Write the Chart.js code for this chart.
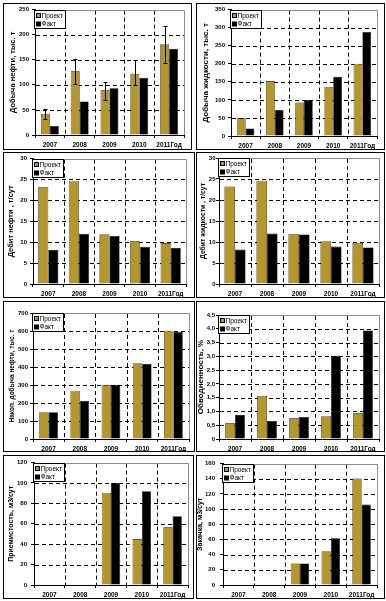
<!DOCTYPE html>
<html>
<head>
<meta charset="utf-8">
<script src="https://cdn.jsdelivr.net/npm/chart.js@4.4.1/dist/chart.umd.min.js"></script>
<style>
  html, body { margin:0; padding:0; background:#fff; }
  body { width:386px; height:601px; position:relative; overflow:hidden; }
  canvas { position:absolute; }
  .frame { position:absolute; border:1px solid #000; box-sizing:border-box; pointer-events:none; }
</style>
</head>
<body>
<script>
// ---------- DATA ----------
const categories = ['2007', '2008', '2009', '2010', '2011'];
const xAxisTitle = 'Год';
const seriesNames = ['Проект', 'Факт'];

const oilProject      = [42, 127, 89, 122, 181];
const oilFact         = [18, 67, 93, 114, 172];
const oilProjectLow   = [32, 101, 69, 99, 144];
const oilProjectHigh  = [51, 152, 105, 149, 217];

const liquidProject   = [49, 152, 93, 136, 200];
const liquidFact      = [21, 72, 100, 164, 288];

const oilRateProject  = [23.2, 24.6, 11.9, 10.2, 9.8];
const oilRateFact     = [8.2, 12.0, 11.5, 8.9, 8.6];

const liqRateProject  = [23.2, 24.6, 11.9, 10.2, 9.8];
const liqRateFact     = [8.2, 12.0, 11.8, 8.9, 8.7];

const cumOilProject   = [149, 268, 301, 421, 602];
const cumOilFact      = [149, 212, 301, 416, 595];

const waterCutProject = [0.57, 1.56, 0.75, 0.83, 0.93];
const waterCutFact    = [0.87, 0.66, 0.80, 3.02, 3.94];

const injectivityProject = [null, null, 90.5, 45, 56.5];
const injectivityFact    = [null, null, 100, 92, 67.5];

const injectionProject = [null, null, 28.5, 44.5, 140.5];
const injectionFact    = [null, null, 28.5, 61.5, 106];

// ---------- STYLE / LAYOUT ----------
const GOLD = '#B4962A';
const FONT = "'Liberation Sans', Arial, sans-serif";

const panels = [
  { title:'Добыча нефти, тыс. т',        proj:oilProject,  fact:oilFact,  max:250, step:50,  box:[3,3,191,149],   plot:[35,9,183,134],  err:[oilProjectLow, oilProjectHigh], cat:0.6, tf:7.5, tx:10, tp:3 },
  { title:'Добыча жидкости, тыс. т',     proj:liquidProject, fact:liquidFact, max:350, step:50, box:[196,3,384,149], plot:[231,9,376,135], cat:0.6, tf:8, tx:10, tp:3 },
  { title:'Дебит нефти , т/сут',          proj:oilRateProject, fact:oilRateFact, max:30, step:5, box:[3,152,194,297], plot:[33,158,185,283], cat:0.66, tf:7.5, tx:8, tp:3 },
  { title:'Дебит жидкости , т/сут',       proj:liqRateProject, fact:liqRateFact, max:30, step:5, box:[196,152,384,297], plot:[219,158,378,283], cat:0.66, tf:6.8, tx:7.5, tp:0.5 },
  { title:'Накоп. добыча нефти, тыс. т', proj:cumOilProject, fact:cumOilFact, max:700, step:100, box:[3,301,194,451], plot:[33,313,188,438], cat:0.6, tf:6.5, tx:9, tp:2 },
  { title:'Обводненность, %',             proj:waterCutProject, fact:waterCutFact, max:4.5, step:0.5, box:[196,301,384,451], plot:[219,315,378,438], cat:0.62, comma:true, tf:8, tx:4, tp:1 },
  { title:'Приемистость, м3/сут',         proj:injectivityProject, fact:injectivityFact, max:120, step:20, box:[3,455,193,598], plot:[34,461,187,584], cat:0.6, tf:7, tx:8, tp:4 },
  { title:'Закачка, м3/сут',              proj:injectionProject, fact:injectionFact, max:160, step:20, box:[196,455,384,598], plot:[223,461,376,584], cat:0.6, tf:7, tx:4, tp:5 }
];

// grid + plot frame, drawn through the chart scales
const gridPlugin = {
  id:'dashGrid',
  beforeDatasetsDraw(chart) {
    const a = chart.chartArea, c = chart.ctx, ys = chart.scales.y, xs = chart.scales.x;
    c.save();
    c.strokeStyle = '#000'; c.lineWidth = 1; c.setLineDash([4, 3]);
    c.beginPath();
    ys.ticks.forEach(t => {
      if (t.value <= ys.min || t.value >= ys.max) return;
      const y = Math.round(ys.getPixelForValue(t.value)) + 0.5;
      c.moveTo(a.left + 1, y); c.lineTo(a.right, y);
    });
    for (let i = 1; i < xs.ticks.length; i++) {
      const x = Math.round((xs.getPixelForTick(i - 1) + xs.getPixelForTick(i)) / 2) + 0.5;
      c.moveTo(x, a.top + 1); c.lineTo(x, a.bottom);
    }
    c.stroke();
    c.setLineDash([]);
    c.strokeStyle = '#8c8c8c';
    c.beginPath();
    c.moveTo(a.left, Math.round(a.top) + 0.5); c.lineTo(Math.round(a.right) + 0.5, Math.round(a.top) + 0.5); c.lineTo(Math.round(a.right) + 0.5, a.bottom);
    c.stroke();
    c.restore();
  }
};

// error bars for the first dataset
const errPlugin = {
  id:'errBars',
  afterDatasetsDraw(chart, args, opts) {
    if (!opts || !opts.low) return;
    const meta = chart.getDatasetMeta(0), y = chart.scales.y, c = chart.ctx;
    c.save(); c.strokeStyle = '#000'; c.lineWidth = 1; c.setLineDash([]);
    meta.data.forEach((bar, i) => {
      if (opts.low[i] == null) return;
      const x = Math.round(bar.x) + 0.5;
      const y1 = y.getPixelForValue(opts.low[i]), y2 = y.getPixelForValue(opts.high[i]);
      c.beginPath();
      c.moveTo(x, y1); c.lineTo(x, y2);
      c.moveTo(x - 2, Math.round(y1) + 0.5); c.lineTo(x + 2, Math.round(y1) + 0.5);
      c.moveTo(x - 2, Math.round(y2) + 0.5); c.lineTo(x + 2, Math.round(y2) + 0.5);
      c.stroke();
    });
    c.restore();
  }
};

// legend box inside the plot area
const legendPlugin = {
  id:'boxLegend',
  afterDatasetsDraw(chart) {
    const a = chart.chartArea, c = chart.ctx;
    const x0 = Math.round(a.left) - 1 + 0.5, y0 = Math.round(a.top) + 0.5, w = 31, h = 18;
    c.save();
    c.fillStyle = '#fff'; c.fillRect(x0, y0, w, h);
    c.strokeStyle = '#000'; c.lineWidth = 1; c.setLineDash([]);
    c.strokeRect(x0, y0, w, h);
    c.font = '6.5px ' + FONT; c.textBaseline = 'middle'; c.textAlign = 'left';
    chart.data.datasets.forEach((ds, i) => {
      const cy = y0 + 5 + i * 8.5;
      c.fillStyle = ds.backgroundColor;
      c.fillRect(x0 + 2, cy - 2, 4, 4);
      c.strokeStyle = '#000'; c.strokeRect(x0 + 2, cy - 2, 4, 4);
      c.fillStyle = '#000';
      c.fillText(ds.label, x0 + 7, cy + 0.5);
    });
    c.restore();
  }
};

panels.forEach((p) => {
  const [bl, bt, br, bb] = p.box;
  const [pl, pt, pr, pb] = p.plot;
  const cv = document.createElement('canvas');
  const W = br - bl + 1, H = bb - bt + 1;
  cv.width = W; cv.height = H;
  cv.style.left = bl + 'px'; cv.style.top = bt + 'px';
  cv.style.width = W + 'px'; cv.style.height = H + 'px';
  document.body.appendChild(cv);
  const fr = document.createElement('div');
  fr.className = 'frame';
  fr.style.left = bl + 'px'; fr.style.top = bt + 'px';
  fr.style.width = W + 'px'; fr.style.height = H + 'px';
  document.body.appendChild(fr);

  const max = p.max;
  const titlePad = Math.max(0, p.tx - p.tf * 1.2 / 2);
  new Chart(cv, {
    type:'bar',
    data:{
      labels: categories,
      datasets:[
        { label: seriesNames[0], data: p.proj, backgroundColor: GOLD, borderColor:'#000', borderWidth:0.6 },
        { label: seriesNames[1], data: p.fact, backgroundColor: '#000', borderColor:'#000', borderWidth:0.6 }
      ]
    },
    options:{
      responsive:false, animation:false, devicePixelRatio:1,
      layout:{ padding:{ left:0, top: pt - bt, right: br - pr, bottom:0 } },
      datasets:{ bar:{ categoryPercentage: p.cat, barPercentage: 1.0 } },
      plugins:{
        legend:{ display:false }, tooltip:{ enabled:false }, title:{ display:false },
        errBars: p.err ? { low: p.err[0], high: p.err[1] } : {}
      },
      scales:{
        x:{
          offset:true,
          grid:{ offset:true, drawOnChartArea:false, drawTicks:true, color:'#000', tickLength:3, tickColor:'#000', lineWidth:1 },
          border:{ display:true, color:'#000', width:1 },
          ticks:{ color:'#000', font:{ family:FONT, size:6.5, weight:'bold' }, padding:3, maxRotation:0, autoSkip:false,
            callback:function(v, i){ const l = this.getLabelForValue(v); return i === categories.length - 1 ? l + xAxisTitle : l; } },
          afterFit: s => { s.height = bb - pb; }
        },
        y:{
          min:0, max:max,
          grid:{ drawOnChartArea:false, drawTicks:true, color:'#000', tickLength:3, tickColor:'#000', lineWidth:1 },
          border:{ display:true, color:'#000', width:1 },
          ticks:{ stepSize:p.step, color:'#000', padding:p.tp, font:{ family:FONT, size:6, weight:'bold' },
            callback: v => p.comma ? (v === 0 ? '0' : v.toFixed(1).replace('.', ',')) : String(v) },
          title:{ display:true, text:p.title, color:'#000', font:{ family:FONT, size:p.tf, weight:'bold' }, padding:{ top:titlePad, bottom:0 } },
          afterFit: s => { s.width = pl - bl; }
        }
      }
    },
    plugins:[gridPlugin, errPlugin, legendPlugin]
  });
});
</script>
</body>
</html>
